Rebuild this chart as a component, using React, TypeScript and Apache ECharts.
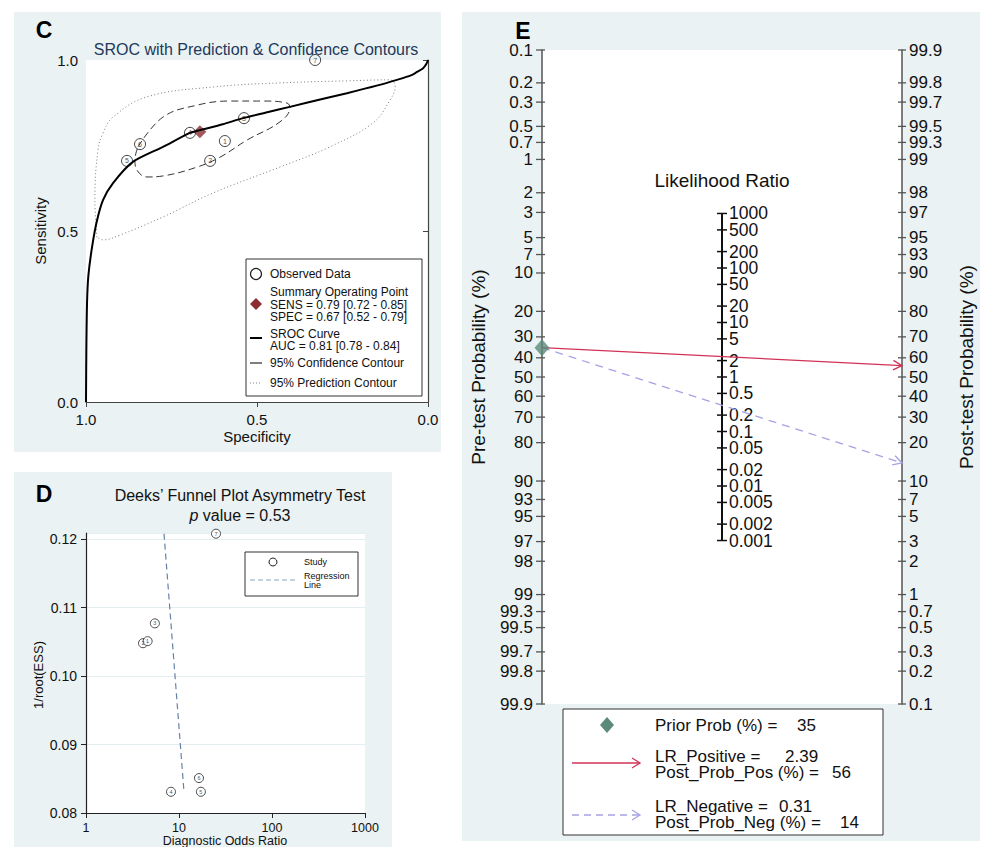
import React, { useEffect, useRef } from "react";
import * as echarts from "echarts";

const FONT = "'Liberation Sans', Arial, Helvetica, sans-serif";
const PANEL_BG = "#eaf2f3";

// ---------- Panel C: SROC ----------
const studyIds = ["1", "2", "3", "4", "5", "6", "7"];
const srocSpec = [0.594, 0.637, 0.538, 0.696, 0.88, 0.842, 0.33];
const srocSens = [0.763, 0.705, 0.83, 0.787, 0.705, 0.754, 1.0];
const summarySpec = 0.667;
const summarySens = 0.79;
const curveSpec = [1.0, 0.999, 0.997, 0.993, 0.982, 0.968, 0.95, 0.921, 0.863, 0.775, 0.696, 0.667, 0.6, 0.541, 0.47, 0.404, 0.3, 0.237, 0.15, 0.091, 0.05, 0.032, 0.015, 0.005, 0.0];
const curveSens = [0.0, 0.15, 0.289, 0.37, 0.455, 0.53, 0.591, 0.64, 0.702, 0.746, 0.787, 0.795, 0.812, 0.83, 0.847, 0.863, 0.888, 0.903, 0.925, 0.942, 0.955, 0.965, 0.975, 0.988, 1.0];
const confSpec = [0.848, 0.775, 0.675, 0.579, 0.482, 0.412, 0.404, 0.433, 0.529, 0.608, 0.675, 0.775, 0.822, 0.851, 0.857, 0.848];
const confSens = [0.746, 0.833, 0.868, 0.88, 0.88, 0.874, 0.86, 0.819, 0.766, 0.716, 0.687, 0.661, 0.658, 0.678, 0.708, 0.746];
const predSpec = [0.968, 0.974, 0.965, 0.95, 0.921, 0.822, 0.629, 0.433, 0.237, 0.111, 0.096, 0.111, 0.161, 0.287, 0.433, 0.629, 0.775, 0.901, 0.95, 0.968];
const predSens = [0.482, 0.591, 0.737, 0.787, 0.833, 0.892, 0.921, 0.933, 0.939, 0.942, 0.921, 0.883, 0.816, 0.746, 0.687, 0.611, 0.541, 0.488, 0.474, 0.482];

// ---------- Panel D: Deeks' funnel ----------
const deeksIds = ["2", "1", "3", "4", "5", "6", "7"];
const deeksDOR = [4.1, 4.6, 5.5, 8.2, 17.2, 16.4, 25];
const deeksInvESS = [0.1048, 0.1051, 0.1077, 0.0831, 0.0831, 0.0851, 0.1208];
const regDOR = [6.9, 11.3];
const regInvESS = [0.1208, 0.0832];

// ---------- Panel E: Fagan nomogram ----------
const probTicks = [0.1, 0.2, 0.3, 0.5, 0.7, 1, 2, 3, 5, 7, 10, 20, 30, 40, 50, 60, 70, 80, 90, 93, 95, 97, 98, 99, 99.3, 99.5, 99.7, 99.8, 99.9];
const lrTicks = [1000, 500, 200, 100, 50, 20, 10, 5, 2, 1, 0.5, 0.2, 0.1, 0.05, 0.02, 0.01, 0.005, 0.002, 0.001];
const priorProb = 35;
const lrPositive = 2.39;
const postProbPos = 56;
const lrNegative = 0.31;
const postProbNeg = 14;

const logit = (p: number) => Math.log(p / (1 - p));
const yMinE = logit(probTicks[0] / 100);
const yMaxE = logit(probTicks[probTicks.length - 1] / 100);

const RED = "#d13257";
const LAV = "#a6a2e4";

const txt = (x: number, y: number, text: string, o: any = {}) => ({
  type: "text",
  x,
  y,
  z: 100,
  rotation: o.rotation || 0,
  silent: true,
  style: {
    text,
    fill: o.color || "#111",
    fontSize: o.size || 12,
    fontFamily: FONT,
    fontWeight: o.weight || "normal",
    align: o.align || "left",
    textAlign: o.align || "left",
    verticalAlign: "middle",
    textVerticalAlign: "middle",
    rich: o.rich,
  },
});

const tickText = (x: number, y: number, text: string, align: string, size: number) => ({
  type: "text",
  x,
  y,
  style: { text, align, verticalAlign: "middle", fontSize: size, fontFamily: FONT, fill: "#111" },
});

const arrowItem = (color: string, dash: number[] | null) => (params: any, api: any) => {
  const a = api.coord([api.value(0), api.value(1)]);
  const b = api.coord([api.value(2), api.value(3)]);
  const ang = Math.atan2(b[1] - a[1], b[0] - a[0]);
  const L = 10, w = 0.5;
  const p1 = [b[0] - L * Math.cos(ang - w), b[1] - L * Math.sin(ang - w)];
  const p2 = [b[0] - L * Math.cos(ang + w), b[1] - L * Math.sin(ang + w)];
  return {
    type: "group",
    children: [
      { type: "line", shape: { x1: a[0], y1: a[1], x2: b[0], y2: b[1] }, style: { stroke: color, lineWidth: 1.3, lineDash: dash || undefined } },
      { type: "polyline", shape: { points: [p1, b, p2] }, style: { stroke: color, fill: "none", lineWidth: 1.3 } },
    ],
  };
};

function buildOption(): any {
  const LS = 17;
  const graphic: any[] = [
    { type: "rect", z: -10, silent: true, shape: { x: 14, y: 12, width: 427, height: 440 }, style: { fill: PANEL_BG } },
    { type: "rect", z: -10, silent: true, shape: { x: 14, y: 472, width: 378, height: 375 }, style: { fill: PANEL_BG } },
    { type: "rect", z: -10, silent: true, shape: { x: 462, y: 12, width: 518, height: 829 }, style: { fill: PANEL_BG } },
    // Panel C texts
    txt(44, 30, "C", { size: 23, weight: "bold", align: "center", color: "#000" }),
    txt(256, 49, "SROC with Prediction & Confidence Contours", { size: 16, align: "center", color: "#22385c" }),
    txt(257, 436, "Specificity", { size: 15, align: "center" }),
    txt(40, 231, "Sensitivity", { size: 15, align: "center", rotation: Math.PI / 2 }),
    // Panel C legend
    { type: "rect", z: 90, silent: true, shape: { x: 246, y: 259, width: 176, height: 137 }, style: { fill: "#fff", stroke: "#333", lineWidth: 1 } },
    { type: "circle", z: 100, silent: true, shape: { cx: 256, cy: 274, r: 5.5 }, style: { fill: "none", stroke: "#222", lineWidth: 1.2 } },
    txt(270, 274, "Observed Data", { size: 12 }),
    { type: "polygon", z: 100, silent: true, shape: { points: [[256, 298], [262, 304], [256, 310], [250, 304]] }, style: { fill: "#8c2d31" } },
    txt(270, 292, "Summary Operating Point", { size: 12 }),
    txt(270, 304.5, "SENS = 0.79 [0.72 - 0.85]", { size: 12 }),
    txt(270, 317, "SPEC = 0.67 [0.52 - 0.79]", { size: 12 }),
    { type: "line", z: 100, silent: true, shape: { x1: 250, y1: 338, x2: 262, y2: 338 }, style: { stroke: "#000", lineWidth: 2 } },
    txt(270, 334, "SROC Curve", { size: 12 }),
    txt(270, 346, "AUC = 0.81 [0.78 - 0.84]", { size: 12 }),
    { type: "line", z: 100, silent: true, shape: { x1: 250, y1: 363, x2: 262, y2: 363 }, style: { stroke: "#555", lineWidth: 1.5 } },
    txt(270, 363, "95% Confidence Contour", { size: 12 }),
    { type: "line", z: 100, silent: true, shape: { x1: 250, y1: 383, x2: 262, y2: 383 }, style: { stroke: "#888", lineWidth: 1, lineDash: [1, 2] } },
    txt(270, 383, "95% Prediction Contour", { size: 12 }),
    // Panel D texts
    txt(44, 494, "D", { size: 23, weight: "bold", align: "center", color: "#000" }),
    txt(240, 495, "Deeks\u2019 Funnel Plot Asymmetry Test", { size: 16, align: "center" }),
    txt(240, 515, "{i|p} value = 0.53", { size: 16, align: "center", rich: { i: { fontStyle: "italic", fontSize: 16, fontFamily: FONT, fill: "#111" } } }),
    txt(38, 675, "1/root(ESS)", { size: 13, align: "center", rotation: Math.PI / 2 }),
    txt(225, 840.5, "Diagnostic Odds Ratio", { size: 12.5, align: "center" }),
    { type: "rect", z: 90, silent: true, shape: { x: 245, y: 552, width: 113, height: 44 }, style: { fill: "#fff", stroke: "#333", lineWidth: 1 } },
    { type: "circle", z: 100, silent: true, shape: { cx: 273, cy: 562, r: 4 }, style: { fill: "none", stroke: "#222", lineWidth: 1 } },
    txt(304, 562, "Study", { size: 9 }),
    { type: "line", z: 100, silent: true, shape: { x1: 250, y1: 580, x2: 297, y2: 580 }, style: { stroke: "#8aa5c0", lineWidth: 1, lineDash: [5, 3] } },
    txt(304, 576, "Regression", { size: 9 }),
    txt(304, 585, "Line", { size: 9 }),
    // Panel E texts
    txt(523, 31, "E", { size: 23, weight: "bold", align: "center", color: "#000" }),
    txt(722, 180, "Likelihood Ratio", { size: 19, align: "center" }),
    txt(478, 367, "Pre-test Probability (%)", { size: 19, align: "center", rotation: Math.PI / 2 }),
    txt(966, 367, "Post-test Probability (%)", { size: 19, align: "center", rotation: Math.PI / 2 }),
    // Panel E legend
    { type: "rect", z: 90, silent: true, shape: { x: 563, y: 709, width: 320, height: 126 }, style: { fill: "#fff", stroke: "#333", lineWidth: 1 } },
    { type: "polygon", z: 100, silent: true, shape: { points: [[607, 717], [614, 725], [607, 733], [600, 725]] }, style: { fill: "#5b8a78" } },
    txt(655, 725, "Prior Prob (%) =", { size: LS }),
    txt(797, 725, String(priorProb), { size: LS }),
    { type: "line", z: 100, silent: true, shape: { x1: 572, y1: 763, x2: 640, y2: 763 }, style: { stroke: RED, lineWidth: 1.3 } },
    { type: "polyline", z: 100, silent: true, shape: { points: [[632, 758], [640, 763], [632, 768]] }, style: { stroke: RED, fill: "none", lineWidth: 1.3 } },
    txt(655, 756, "LR_Positive =", { size: LS }),
    txt(785, 756, lrPositive.toFixed(2), { size: LS }),
    txt(655, 772, "Post_Prob_Pos (%) =", { size: LS }),
    txt(832, 772, String(postProbPos), { size: LS }),
    { type: "line", z: 100, silent: true, shape: { x1: 572, y1: 815, x2: 640, y2: 815 }, style: { stroke: LAV, lineWidth: 1.3, lineDash: [7, 5] } },
    { type: "polyline", z: 100, silent: true, shape: { points: [[632, 810], [640, 815], [632, 820]] }, style: { stroke: LAV, fill: "none", lineWidth: 1.3 } },
    txt(655, 806, "LR_Negative =", { size: LS }),
    txt(779, 806, lrNegative.toFixed(2), { size: LS }),
    txt(655, 822, "Post_Prob_Neg (%) =", { size: LS }),
    txt(840, 822, String(postProbNeg), { size: LS }),
  ];

  const axisLineC = { show: true, lineStyle: { color: "#444", width: 1.2 } };
  const axisLineD = { show: true, lineStyle: { color: "#222", width: 1.2 } };

  return {
    animation: false,
    backgroundColor: "transparent",
    textStyle: { fontFamily: FONT },
    graphic,
    grid: [
      { left: 86, top: 60, width: 342, height: 342, show: true, backgroundColor: "#fff", borderWidth: 0 },
      { left: 86, top: 533, width: 279, height: 280, show: true, backgroundColor: "#fff", borderWidth: 0 },
      { left: 542, top: 50, width: 360, height: 654, show: true, backgroundColor: "#fff", borderWidth: 0 },
    ],
    xAxis: [
      {
        gridIndex: 0, type: "value", inverse: true, min: 0, max: 1, interval: 0.5,
        axisLine: axisLineC, axisTick: { show: true, length: 5, lineStyle: { color: "#444" } },
        axisLabel: { formatter: (v: number) => v.toFixed(1), fontSize: 15, fontFamily: FONT, color: "#111", margin: 10 },
        splitLine: { show: false },
      },
      {
        gridIndex: 1, type: "log", logBase: 10, min: 1, max: 1000,
        axisLine: axisLineD, axisTick: { show: true, length: 5, lineStyle: { color: "#222" } },
        axisLabel: { formatter: (v: number) => String(Math.round(v)), fontSize: 12.5, fontFamily: FONT, color: "#111", margin: 8 },
        splitLine: { show: false }, minorTick: { show: false },
      },
      { gridIndex: 2, type: "value", min: 0, max: 1, show: false },
    ],
    yAxis: [
      {
        gridIndex: 0, type: "value", min: 0, max: 1, interval: 0.5,
        axisLine: axisLineC, axisTick: { show: true, length: 5, lineStyle: { color: "#444" } },
        axisLabel: { formatter: (v: number) => v.toFixed(1), fontSize: 15, fontFamily: FONT, color: "#111", margin: 8 },
        splitLine: { show: false },
      },
      {
        gridIndex: 1, type: "value", min: 0.08, max: 0.1209, interval: 0.01,
        axisLine: axisLineD, axisTick: { show: true, length: 5, lineStyle: { color: "#222" } },
        axisLabel: { formatter: (v: number) => v.toFixed(2), fontSize: 14, fontFamily: FONT, color: "#111", margin: 9, showMaxLabel: false },
        splitLine: { show: true, lineStyle: { color: "#e4eef0", width: 1 } },
      },
      {
        gridIndex: 2, type: "value", min: yMinE, max: yMaxE, inverse: true, position: "left",
        axisLine: { show: true, onZero: false, lineStyle: { color: "#555", width: 1.5 } },
        axisTick: { show: false }, axisLabel: { show: false }, splitLine: { show: false },
      },
      {
        gridIndex: 2, type: "value", min: yMinE, max: yMaxE, inverse: true, position: "right",
        axisLine: { show: true, onZero: false, lineStyle: { color: "#555", width: 1.5 } },
        axisTick: { show: false }, axisLabel: { show: false }, splitLine: { show: false },
      },
    ],
    series: [
      // ---- C ----
      {
        type: "line", xAxisIndex: 0, yAxisIndex: 0, silent: true, showSymbol: false, smooth: 0.4,
        data: predSpec.map((s, i) => [s, predSens[i]]),
        lineStyle: { color: "#7a7a7a", width: 1, type: [1, 2.5] },
      },
      {
        type: "line", xAxisIndex: 0, yAxisIndex: 0, silent: true, showSymbol: false, smooth: 0.4,
        data: confSpec.map((s, i) => [s, confSens[i]]),
        lineStyle: { color: "#333", width: 1, type: [7, 4] },
      },
      {
        type: "line", xAxisIndex: 0, yAxisIndex: 0, silent: true, showSymbol: false, smooth: 0.25,
        data: curveSpec.map((s, i) => [s, curveSens[i]]),
        lineStyle: { color: "#000", width: 2 },
      },
      {
        type: "scatter", xAxisIndex: 0, yAxisIndex: 0, silent: true, symbol: "circle", symbolSize: 11, clip: false,
        data: srocSpec.map((s, i) => ({ value: [s, srocSens[i]], name: studyIds[i] })),
        itemStyle: { color: "rgba(255,255,255,0)", borderColor: "#111", borderWidth: 1 },
        label: { show: true, position: "inside", formatter: "{b}", fontSize: 7, color: "#222", fontFamily: FONT },
      },
      {
        type: "scatter", xAxisIndex: 0, yAxisIndex: 0, silent: true, symbol: "diamond", symbolSize: 13,
        data: [[summarySpec, summarySens]], itemStyle: { color: "#8c2d31" },
      },
      // ---- D ----
      {
        type: "line", xAxisIndex: 1, yAxisIndex: 1, silent: true, showSymbol: false,
        data: regDOR.map((d, i) => [d, regInvESS[i]]),
        lineStyle: { color: "#6482a8", width: 1.2, type: [6, 4] },
      },
      {
        type: "scatter", xAxisIndex: 1, yAxisIndex: 1, silent: true, symbol: "circle", symbolSize: 9, clip: false,
        data: deeksDOR.map((d, i) => ({ value: [d, deeksInvESS[i]], name: deeksIds[i] })),
        itemStyle: { color: "#fff", borderColor: "#222", borderWidth: 1 },
        label: { show: true, position: "inside", formatter: "{b}", fontSize: 5.5, color: "#222", fontFamily: FONT },
      },
      // ---- E: pre-test axis ticks ----
      {
        type: "custom", xAxisIndex: 2, yAxisIndex: 2, silent: true, clip: false,
        data: probTicks.map((t) => [0, logit(t / 100)]),
        renderItem: (params: any, api: any) => {
          const p = api.coord([api.value(0), api.value(1)]);
          const t = probTicks[params.dataIndex];
          return {
            type: "group",
            children: [
              { type: "line", shape: { x1: p[0] - 6, y1: p[1], x2: p[0] + 3, y2: p[1] }, style: { stroke: "#555", lineWidth: 1.3 } },
              tickText(p[0] - 9, p[1], String(t), "right", 17),
            ],
          };
        },
      },
      // ---- E: post-test axis ticks ----
      {
        type: "custom", xAxisIndex: 2, yAxisIndex: 2, silent: true, clip: false,
        data: probTicks.map((t) => [1, -logit(t / 100)]),
        renderItem: (params: any, api: any) => {
          const p = api.coord([api.value(0), api.value(1)]);
          const t = probTicks[params.dataIndex];
          return {
            type: "group",
            children: [
              { type: "line", shape: { x1: p[0] - 4, y1: p[1], x2: p[0] + 4, y2: p[1] }, style: { stroke: "#555", lineWidth: 1.3 } },
              tickText(p[0] + 7, p[1], String(t), "left", 17),
            ],
          };
        },
      },
      // ---- E: likelihood ratio axis line ----
      {
        type: "custom", xAxisIndex: 2, yAxisIndex: 2, silent: true, clip: false,
        dimensions: ["x0", "y0", "x1", "y1"],
        encode: { x: [0, 2], y: [1, 3] },
        data: [[0.5, -Math.log(lrTicks[0]) / 2, 0.5, -Math.log(lrTicks[lrTicks.length - 1]) / 2]],
        renderItem: (params: any, api: any) => {
          const a = api.coord([api.value(0), api.value(1)]);
          const b = api.coord([api.value(2), api.value(3)]);
          return { type: "line", shape: { x1: a[0], y1: a[1], x2: b[0], y2: b[1] }, style: { stroke: "#111", lineWidth: 2 } };
        },
      },
      // ---- E: likelihood ratio ticks ----
      {
        type: "custom", xAxisIndex: 2, yAxisIndex: 2, silent: true, clip: false,
        data: lrTicks.map((t) => [0.5, -Math.log(t) / 2]),
        renderItem: (params: any, api: any) => {
          const p = api.coord([api.value(0), api.value(1)]);
          const t = lrTicks[params.dataIndex];
          return {
            type: "group",
            children: [
              { type: "line", shape: { x1: p[0] - 5, y1: p[1], x2: p[0] + 5, y2: p[1] }, style: { stroke: "#111", lineWidth: 1.5 } },
              tickText(p[0] + 7, p[1], String(t), "left", 17.5),
            ],
          };
        },
      },
      // ---- E: LR negative (dashed) ----
      {
        type: "custom", xAxisIndex: 2, yAxisIndex: 2, silent: true, clip: false,
        dimensions: ["x0", "y0", "x1", "y1"],
        encode: { x: [0, 2], y: [1, 3] },
        data: [[0, logit(priorProb / 100), 1, -logit(postProbNeg / 100)]],
        renderItem: arrowItem(LAV, [8, 6]),
      },
      // ---- E: LR positive ----
      {
        type: "custom", xAxisIndex: 2, yAxisIndex: 2, silent: true, clip: false,
        dimensions: ["x0", "y0", "x1", "y1"],
        encode: { x: [0, 2], y: [1, 3] },
        data: [[0, logit(priorProb / 100), 1, -logit(postProbPos / 100)]],
        renderItem: arrowItem(RED, null),
      },
      // ---- E: prior probability marker ----
      {
        type: "scatter", xAxisIndex: 2, yAxisIndex: 2, silent: true, clip: false, symbol: "diamond", symbolSize: [15, 17],
        data: [[0, logit(priorProb / 100)]], itemStyle: { color: "#5b8a78" }, z: 5,
      },
    ],
  };
}

export default function App() {
  const ref = useRef<HTMLDivElement>(null);
  useEffect(() => {
    if (!ref.current) return;
    const chart = echarts.init(ref.current, null, { renderer: "svg", width: 982, height: 847 });
    chart.setOption(buildOption());
    return () => chart.dispose();
  }, []);
  return <div ref={ref} style={{ position: "absolute", left: 0, top: 0, width: 982, height: 847, background: "#fff" }} />;
}
